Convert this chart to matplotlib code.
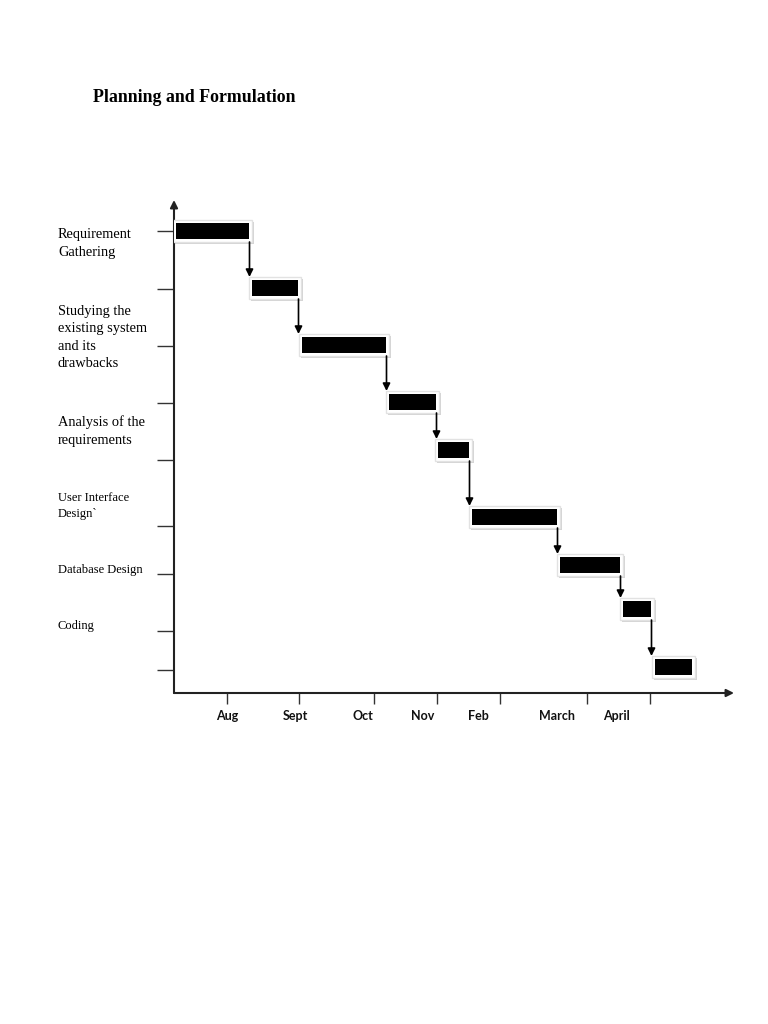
import matplotlib
matplotlib.use('Agg')
import matplotlib.pyplot as plt
from matplotlib.patches import Rectangle

# Task rows (label text is drawn separately at the left margin)
task_labels = ['Requirement\nGathering',
               'Studying the\nexisting system\nand its\ndrawbacks',
               'Analysis of the\nrequirements',
               'User Interface\nDesign`',
               'Database Design',
               'Coding']
label_y = [243.5, 337.5, 431, 506, 570, 626]        # figure pixels from top
label_size = [10.4, 10.4, 10.4, 9.0, 9.0, 9.0]

# Bars: start / end on the time axis, row height on the vertical axis
bar_start = [0.2, 7.8, 12.8, 21.5, 26.4, 29.8, 38.6, 44.9, 48.1]
bar_end = [7.5, 12.4, 21.2, 26.2, 29.5, 38.3, 44.6, 47.7, 51.8]
bar_y = [46.2, 40.5, 34.8, 29.1, 24.3, 17.6, 12.8, 8.4, 2.6]

# Axis ticks and month labels
ytick_pos = [46.2, 40.4, 34.7, 29.0, 23.3, 16.7, 11.9, 6.2, 2.3]
months = ['Aug', 'Sept', 'Oct', 'Nov', 'Feb', 'March', 'April']
month_tick = [5.3, 12.5, 20.0, 26.3, 32.6, 41.3, 47.6]
month_label_x = [5.3, 12.1, 18.9, 24.9, 30.4, 38.3, 44.2]

fig = plt.figure(figsize=(7.68, 10.24), dpi=100)
ax = fig.add_axes([174 / 768, (1024 - 693) / 1024, 560 / 768, 493 / 1024])
ax.set_xlim(0, 56)
ax.set_ylim(0, 49.3)
for s in ax.spines.values():
    s.set_visible(False)

# axis lines with arrow heads
ax.annotate('', xy=(0, 49.3), xytext=(0, 0), annotation_clip=False,
            arrowprops=dict(arrowstyle='-|>', color='#222222', lw=1.5,
                            mutation_scale=11, shrinkA=0, shrinkB=0))
ax.annotate('', xy=(56, 0), xytext=(0, 0), annotation_clip=False,
            arrowprops=dict(arrowstyle='-|>', color='#222222', lw=1.5,
                            mutation_scale=11, shrinkA=0, shrinkB=0))

ax.set_yticks(ytick_pos)
ax.set_yticklabels([])
ax.tick_params(axis='y', length=12, width=1, color='#333333', direction='out')
ax.set_xticks(month_tick)
ax.set_xticklabels([])
ax.tick_params(axis='x', length=8, width=1, color='#333333', direction='out')

for m, x in zip(months, month_label_x):
    ax.text(x, -2.3, m, ha='center', va='center', fontsize=9,
            family='Lato', fontweight='bold', color='#111111', clip_on=False)

h = 1.6
pad = 0.3
for i in range(len(bar_start)):
    x0, x1, yc = bar_start[i], bar_end[i], bar_y[i]
    # drop shadow
    ax.add_patch(Rectangle((x0 - pad + 0.2, yc - h / 2 - pad - 0.2),
                           x1 - x0 + 2 * pad, h + 2 * pad,
                           facecolor='#d4d4d4', edgecolor='none', zorder=2))
    # white frame
    ax.add_patch(Rectangle((x0 - pad, yc - h / 2 - pad),
                           x1 - x0 + 2 * pad, h + 2 * pad,
                           facecolor='white', edgecolor='#e2e2e2', lw=1, zorder=3))
    # black bar
    ax.add_patch(Rectangle((x0, yc - h / 2), x1 - x0, h,
                           facecolor='black', edgecolor='none', zorder=4))

# dependency arrows
for i in range(len(bar_start) - 1):
    x = bar_end[i] + 0.05
    ax.annotate('', xy=(x, bar_y[i + 1] + h / 2 + pad),
                xytext=(x, bar_y[i] - h / 2 - pad),
                arrowprops=dict(arrowstyle='-|>', color='black', lw=1.2,
                                mutation_scale=11, shrinkA=0, shrinkB=0),
                zorder=5)

for lab, y, fs in zip(task_labels, label_y, label_size):
    fig.text(58 / 768, 1 - y / 1024, lab, ha='left', va='center',
             fontsize=fs, family='Liberation Serif', linespacing=1.45)

fig.text(93 / 768, 1 - 97 / 1024, 'Planning and Formulation', ha='left',
         va='center', fontsize=12.9, family='Liberation Serif',
         fontweight='bold')

fig.savefig('out.png', dpi=100)
